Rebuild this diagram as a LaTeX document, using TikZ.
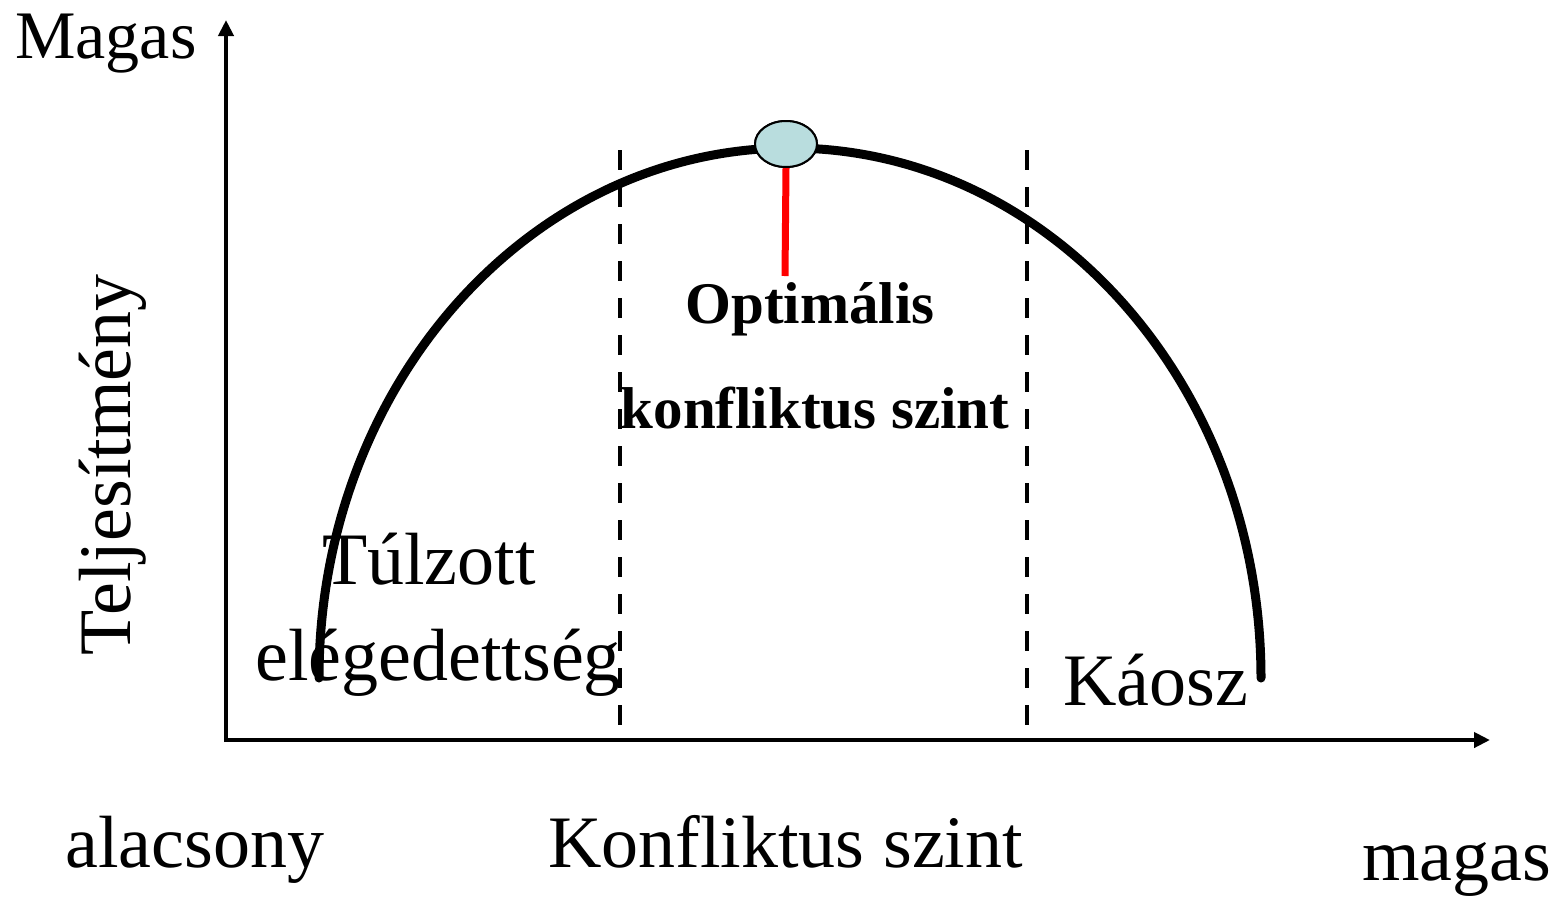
\documentclass[tikz,border=0pt]{standalone}
\usepackage{fontspec}
\setmainfont{Liberation Serif}
\usetikzlibrary{arrows.meta,shapes.geometric}
\definecolor{topfill}{RGB}{185,221,222}
\tikzset{
  axisline/.style={line width=4pt,-{Triangle[length=16pt,width=15pt]}},
  zoneline/.style={line width=4.5pt,dash pattern=on 20pt off 17pt},
  curveline/.style={line width=9pt,line cap=round},
  optline/.style={line width=7pt,red},
  label/.style={font=\fontsize{74}{80}\selectfont,inner sep=0pt},
  boldlabel/.style={font=\fontsize{59}{64}\selectfont\bfseries,inner sep=0pt},
  topmark/.style={ellipse,draw,line width=2pt,fill=topfill,minimum width=62pt,minimum height=46pt,inner sep=0pt},
}
\begin{document}
\begin{tikzpicture}[x=1pt,y=-1pt]
\useasboundingbox (0,0) rectangle (1555,898);
% axes
\coordinate (O) at (226,740);
\coordinate (ytip) at (226,20);
\coordinate (xtip) at (1490,740);
\draw[axisline] (226,742) -- (ytip);
\draw[axisline] (224,740) -- (xtip);
% zone borders
\coordinate (d1t) at (620,150);
\coordinate (d1b) at (620,725);
\coordinate (d2t) at (1027,150);
\coordinate (d2b) at (1027,725);
\draw[zoneline] (d1t) -- (d1b);
\draw[zoneline] (d2t) -- (d2b);
% curve
\coordinate (cstart) at (319,678);
\draw[curveline] (cstart) arc[start angle=180,end angle=360,x radius=471,y radius=530];
% optimum marker
\coordinate (redend) at (785,276);
\node[topmark] (opt) at (786,144) {};
\draw[optline] (opt.south) -- (redend);
\node[topmark] at (opt) {};
% labels
\node[label,anchor=base west,font=\fontsize{68}{74}\selectfont] (magas1) at (15,58) {Magas};
\node[label,anchor=base,rotate=90] (telj) at (130,465) {Teljesítmény};
\node[label,anchor=base west] (tul) at (322,584) {Túlzott};
\node[label,anchor=base west] (eleg) at (255,680) {elégedettség};
\node[label,anchor=base west] (kaosz) at (1063,705) {Káosz};
\node[boldlabel,anchor=base] (optim) at (810,323) {Optimális};
\node[boldlabel,anchor=base] (konfsz) at (815,428) {konfliktus szint};
\node[label,anchor=base west] (alac) at (65,867) {alacsony};
\node[label,anchor=base west] (konf) at (548,867) {Konfliktus szint};
\node[label,anchor=base west] (magas2) at (1362,880) {magas};
\end{tikzpicture}
\end{document}
